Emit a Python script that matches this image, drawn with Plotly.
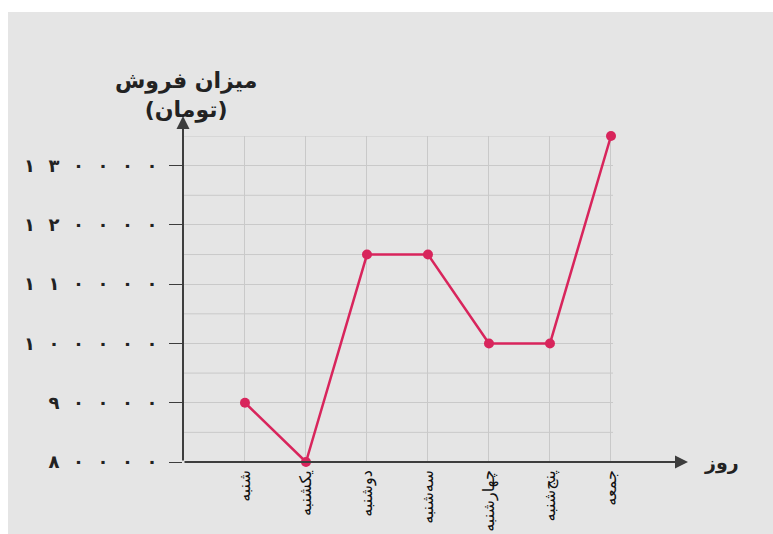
import plotly.graph_objects as go

days = ["شنبه", "یکشنبه", "دوشنبه", "سه‌شنبه", "چهارشنبه", "پنج‌شنبه", "جمعه"]
sales = [90000, 80000, 115000, 115000, 100000, 100000, 135000]
y_tick_vals = [80000, 90000, 100000, 110000, 120000, 130000]
y_tick_text = ["۸۰۰۰۰", "۹۰۰۰۰", "۱۰۰۰۰۰", "۱۱۰۰۰۰", "۱۲۰۰۰۰", "۱۳۰۰۰۰"]
y_grid_vals = [85000, 95000, 105000, 115000, 125000, 135000]
y_title = "میزان فروش<br>(تومان)"
x_title = "روز"

W, H = 773, 534
L, R, T, B = 183, 613, 136, 462  # plot area pixels

def px_x(p):
    return (p - L) / (R - L)

def px_y(p):
    return (B - p) / (B - T)

SEP = "\u2002\u2005"
spaced = [SEP.join(list(t)) for t in y_tick_text]

fig = go.Figure()
fig.add_trace(go.Scatter(
    x=days, y=sales, mode="lines+markers",
    line=dict(color="#d8255c", width=2.5),
    marker=dict(color="#d8255c", size=10),
    cliponaxis=False, showlegend=False, hoverinfo="x+y",
))

# minor horizontal grid lines (every 5000)
for v in y_grid_vals:
    fig.add_shape(type="line", xref="paper", yref="y", x0=0, x1=1, y0=v, y1=v,
                  line=dict(color="#c9c9c9", width=1), layer="below")

# white border strips (top and left)
fig.add_shape(type="rect", xref="paper", yref="paper",
              x0=px_x(0), x1=px_x(W), y0=px_y(12), y1=px_y(0),
              fillcolor="white", line=dict(width=0), layer="below")
fig.add_shape(type="rect", xref="paper", yref="paper",
              x0=px_x(0), x1=px_x(8), y0=px_y(H), y1=px_y(0),
              fillcolor="white", line=dict(width=0), layer="below")

axis_col = "#3d3d3d"
# x axis arrow
fig.add_annotation(xref="paper", yref="paper", x=px_x(688), y=0,
                   ax=-(688 - L), ay=0, axref="pixel", ayref="pixel",
                   text="", showarrow=True, arrowhead=2, arrowsize=1.3,
                   arrowwidth=2, arrowcolor=axis_col, standoff=0, startstandoff=0)
# y axis arrow
fig.add_annotation(xref="paper", yref="paper", x=0, y=px_y(116),
                   ax=0, ay=(B - 116), axref="pixel", ayref="pixel",
                   text="", showarrow=True, arrowhead=2, arrowsize=1.3,
                   arrowwidth=2, arrowcolor=axis_col, standoff=0, startstandoff=0)

fig.add_annotation(xref="paper", yref="paper", x=px_x(721), y=px_y(462),
                   text=x_title, showarrow=False, xanchor="center", yanchor="middle",
                   font=dict(family="DejaVu Sans", size=19, color="#222", weight="bold"))
fig.add_annotation(xref="paper", yref="paper", x=px_x(186), y=px_y(95),
                   text=y_title, showarrow=False, xanchor="center", yanchor="middle",
                   font=dict(family="DejaVu Sans", size=22, color="#222", weight="bold"))

fig.update_layout(
    width=W, height=H, autosize=False,
    margin=dict(l=L, r=W - R, t=T, b=H - B, pad=0, autoexpand=False),
    paper_bgcolor="#e5e5e5", plot_bgcolor="#e5e5e5",
    xaxis=dict(type="category", range=[-1.016, 6.033], showgrid=True,
               gridcolor="#c9c9c9", gridwidth=1, zeroline=False, showline=False,
               ticks="", tickangle=-90, automargin=False, ticklabelstandoff=4,
               tickfont=dict(family="DejaVu Sans", size=16, color="#111")),
    yaxis=dict(range=[80000, 135000], tickvals=y_tick_vals, ticktext=spaced,
               showgrid=True, gridcolor="#c9c9c9", gridwidth=1, zeroline=False,
               showline=False, ticks="outside", ticklen=13, tickwidth=1,
               tickcolor=axis_col, ticklabelstandoff=8, automargin=False,
               tickfont=dict(family="DejaVu Sans", size=18, color="#222", weight="bold")),
)

fig.write_html("out.html", config={"displayModeBar": False},
               post_script="document.body.style.margin='0px';document.body.style.overflow='hidden';")
